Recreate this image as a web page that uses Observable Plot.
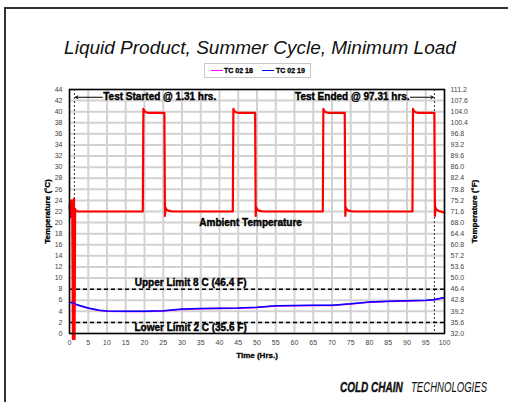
<!DOCTYPE html>
<html>
<head>
<meta charset="utf-8">
<script src="https://cdn.jsdelivr.net/npm/d3@7"></script>
<script src="https://cdn.jsdelivr.net/npm/@observablehq/plot@0.6"></script>
<style>
  html, body { margin: 0; padding: 0; background: #fff; }
  #wrap { position: relative; width: 508px; height: 402px; overflow: hidden; font-family: "Liberation Sans", Arial, sans-serif; }
  #frame { position: absolute; left: 4px; top: 7px; width: 560px; height: 460px; border: 2px solid #333; box-sizing: border-box; }
  #title { position: absolute; left: 0; width: 520px; top: 38px; text-align: center; font-size: 19px; line-height: 19px; font-style: italic; color: #111; white-space: nowrap; }
  #legend { position: absolute; left: 204px; top: 63px; width: 107px; height: 15px; border: 1px solid #c8c8c8; box-sizing: border-box; }
  .lg-line { position: absolute; top: 6px; width: 12px; height: 0; border-top: 1.5px solid; }
  .lg-text { position: absolute; top: 2px; font-size: 7px; line-height: 9px; font-weight: bold; color: #000; white-space: nowrap; -webkit-text-stroke: 0.3px #000; }
  #chart { position: absolute; left: 0; top: 80px; }
  .foot { position: absolute; top: 380px; font-size: 14.5px; line-height: 14px; font-style: italic; color: #111; white-space: nowrap; transform-origin: left top; }
</style>
</head>
<body>
<div id="wrap">
  <div id="frame"></div>
  <div id="title">Liquid Product, Summer Cycle, Minimum Load</div>
  <div id="legend">
    <div class="lg-line" style="left:6px;border-color:#ff00ff"></div>
    <div class="lg-text" style="left:19px">TC 02 18</div>
    <div class="lg-line" style="left:57px;border-color:#0000ff"></div>
    <div class="lg-text" style="left:71px">TC 02 19</div>
  </div>
  <div id="chart"></div>
  <div class="foot" style="left:340px;font-weight:bold;transform:scaleX(0.69);-webkit-text-stroke:0.4px #111">COLD CHAIN</div>
  <div class="foot" style="left:411px;transform:scaleX(0.66)">TECHNOLOGIES</div>
</div>
<script>
// ---- data ----
const xTicks = [0,5,10,15,20,25,30,35,40,45,50,55,60,65,70,75,80,85,90,95,100];
const cTicks = [0,2,4,6,8,10,12,14,16,18,20,22,24,26,28,30,32,34,36,38,40,42,44];

// Ambient temperature (red), °C
const ambientTime = [0,0.15,0.3,0.45,0.6,0.75,0.9,1.05,1.2,1.35,1.5,1.7,2.2,
  19.55,19.7,19.95,20.4,20.9,25.3,25.45,25.6,25.9,26.5,27.6,
  43.55,43.7,43.95,44.4,44.9,49.5,49.65,49.8,50.1,50.7,51.8,
  67.55,67.7,67.95,68.4,68.9,73.4,73.55,73.7,74.0,74.6,75.7,
  91.45,91.6,91.85,92.3,92.8,97.3,97.45,97.6,97.9,98.5,100];
const ambientTemp = [22.5,23.8,21,22.8,24,20.5,-1,23.5,24.3,-1,22.5,22.1,22,
  22,40.5,40.1,39.9,39.8,39.8,21.2,22.7,22.3,22.1,22,
  22,40.5,40.1,39.9,39.8,39.8,21.2,22.7,22.3,22.1,22,
  22,40.5,40.1,39.9,39.8,39.8,21.2,22.7,22.3,22.1,22,
  22,40.5,40.1,39.9,39.8,39.8,21.2,22.7,22.3,22.1,21.8];

// Product probes, °C
const probeTime = [0,2,5,8,10,15,20,25,30,35,40,45,50,55,60,65,70,75,80,85,90,95,97,100];
const tc0218 = [5.65,5.15,4.55,4.15,4.0,3.95,3.95,4.05,4.35,4.45,4.5,4.55,4.7,4.95,5.0,5.05,5.05,5.3,5.65,5.75,5.85,5.95,6.05,6.45];
const tc0219 = [5.7,5.2,4.6,4.2,4.05,4.0,4.0,4.1,4.4,4.5,4.55,4.6,4.75,5.0,5.05,5.1,5.1,5.35,5.7,5.8,5.9,6.0,6.1,6.5];

const limits = [8, 2];
const limitLabels = ["Upper Limit 8 C (46.4 F)", "Lower Limit 2 C (35.6 F)"];
const testMarks = [1.31, 97.31];

const ambient = ambientTime.map((t, i) => ({t, v: ambientTemp[i]}));
const probe18 = probeTime.map((t, i) => ({t, v: tc0218[i]}));
const probe19 = probeTime.map((t, i) => ({t, v: tc0219[i]}));

const bold = {fontWeight: "bold", fontSize: 10, fill: "#000", stroke: "#000", strokeWidth: 0.4};

const chart = Plot.plot({
  width: 508,
  height: 290,
  marginLeft: 69,
  marginRight: 64,
  marginTop: 9,
  marginBottom: 37,
  style: {fontFamily: "'Liberation Sans', Arial, sans-serif", fontSize: "7px", color: "#444", background: "transparent"},
  x: {domain: [0, 100]},
  y: {domain: [0, 44]},
  marks: [
    Plot.ruleX(xTicks, {stroke: "#d2d2d2", strokeWidth: 2}),
    Plot.ruleY(cTicks, {stroke: "#d2d2d2", strokeWidth: 2}),
    Plot.axisX(xTicks, {tickSize: 0, tickPadding: 7, label: null}),
    Plot.axisY(cTicks, {anchor: "left", tickSize: 0, tickPadding: 7, label: null}),
    Plot.axisY(cTicks, {anchor: "right", tickSize: 0, tickPadding: 6, label: null, tickFormat: d => (d * 1.8 + 32).toFixed(1)}),
    Plot.ruleY(limits, {stroke: "#000", strokeWidth: 1.5, strokeDasharray: "4,3"}),
    Plot.ruleX(testMarks, {stroke: "#000", strokeWidth: 0.8, strokeDasharray: "2,2"}),
    Plot.line(ambient, {x: "t", y: "v", stroke: "#ff0000", strokeWidth: 2.2}),
    Plot.line(probe18, {x: "t", y: "v", stroke: "#ff00ff", strokeWidth: 1.5}),
    Plot.line(probe19, {x: "t", y: "v", stroke: "#0000ff", strokeWidth: 1.5}),
    Plot.frame({stroke: "#000", strokeWidth: 1.5}),
    Plot.text(["Test Started @ 1.31 hrs."], {x: 9, y: 42.6, textAnchor: "start", ...bold}),
    Plot.arrow([0], {x1: 8.8, y1: 42.6, x2: 1.6, y2: 42.6, stroke: "#000", strokeWidth: 1, headLength: 4}),
    Plot.text(["Test Ended @ 97.31 hrs."], {x: 90.7, y: 42.6, textAnchor: "end", ...bold}),
    Plot.arrow([0], {x1: 90.9, y1: 42.6, x2: 97.0, y2: 42.6, stroke: "#000", strokeWidth: 1, headLength: 4}),
    Plot.text(["Ambient Temperature"], {x: 48.3, y: 19.9, ...bold}),
    Plot.text(limitLabels, {x: 32.3, y: [9.1, 0.95], ...bold}),
    Plot.text(["Temperature (°C)"], {x: -6.0, y: 22, rotate: -90, fontWeight: "bold", fontSize: 8, fill: "#000", stroke: "#000", strokeWidth: 0.3}),
    Plot.text(["Temperature (°F)"], {x: 108.0, y: 22, rotate: -90, fontWeight: "bold", fontSize: 8, fill: "#000", stroke: "#000", strokeWidth: 0.3}),
    Plot.text(["Time (Hrs.)"], {x: 50, y: -3.9, fontWeight: "bold", fontSize: 8, fill: "#000", stroke: "#000", strokeWidth: 0.3})
  ]
});
document.getElementById("chart").appendChild(chart);
</script>
</body>
</html>
